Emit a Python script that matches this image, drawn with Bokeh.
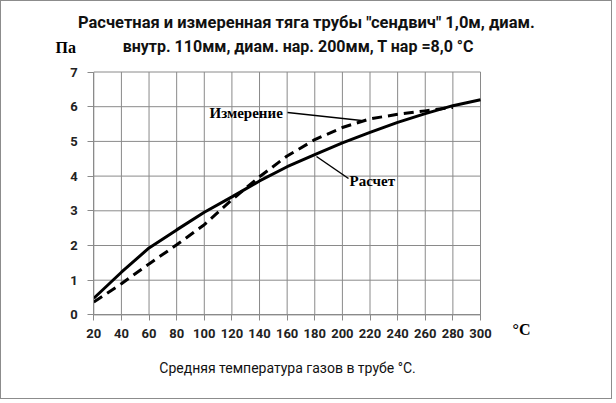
from bokeh.plotting import figure
from bokeh.models import Range1d, FixedTicker, Label, LinearAxis
from bokeh.embed import file_html
from bokeh.resources import INLINE

# ---- data ----
temp_calc = [20, 40, 60, 80, 100, 120, 140, 160, 180, 200, 220, 240, 260, 280, 300]
draft_calc = [0.48, 1.23, 1.93, 2.45, 2.96, 3.40, 3.86, 4.27, 4.62, 4.96, 5.26, 5.55, 5.80, 6.03, 6.20]
temp_meas = [20, 40, 60, 80, 100, 120, 140, 160, 180, 200, 220, 240, 260, 280]
draft_meas = [0.37, 0.90, 1.47, 2.02, 2.60, 3.32, 3.98, 4.58, 5.05, 5.40, 5.65, 5.78, 5.88, 5.98]
x_ticks = list(range(20, 301, 20))
y_ticks = list(range(0, 8))

title_1 = 'Расчетная  и измеренная тяга трубы "сендвич" 1,0м,  диам.'
title_2 = 'внутр.  110мм,  диам. нар. 200мм, Т нар =8,0 °C'
x_title = 'Средняя температура газов в трубе °C.'
y_unit = 'Па'
x_unit = '°C'
lbl_meas = 'Измерение'
lbl_calc = 'Расчет'

W, H = 612, 399
# plot-area placement on the canvas (pixels)
PX0, PX1 = 92.3, 479.0     # x = 20 .. 300
PY0, PY1 = 313.4, 70.5     # y = 0 .. 7
sx = (PX1 - PX0) / (x_ticks[-1] - x_ticks[0])
sy = (PY0 - PY1) / (y_ticks[-1] - y_ticks[0])

def dx(px):
    return x_ticks[0] + (px - PX0) / sx
def dy(py):
    return y_ticks[0] + (PY0 - py) / sy

p = figure(width=W, height=H, output_backend="svg", toolbar_location=None,
           x_axis_type=None, y_axis_type=None,
           x_range=Range1d(dx(0), dx(W)), y_range=Range1d(dy(H), dy(0)),
           min_border=0)
p.title.visible = False
p.styles = {"border": "1px solid #8c8c8c", "box-sizing": "border-box"}
p.outline_line_color = None
p.background_fill_color = "white"
p.border_fill_color = "white"

grid_col = "#8a8a8a"
nx, ny = len(x_ticks), len(y_ticks)
# gridlines
p.segment(x0=x_ticks, y0=[y_ticks[0]] * nx, x1=x_ticks, y1=[y_ticks[-1]] * nx,
          line_color=grid_col, line_width=1)
p.segment(x0=[x_ticks[0]] * ny, y0=y_ticks, x1=[x_ticks[-1]] * ny, y1=y_ticks,
          line_color=grid_col, line_width=1)

xax = LinearAxis(fixed_location=y_ticks[0], ticker=FixedTicker(ticks=x_ticks),
                 bounds=(x_ticks[0], x_ticks[-1]))
yax = LinearAxis(fixed_location=x_ticks[0], ticker=FixedTicker(ticks=y_ticks),
                 bounds=(y_ticks[0], y_ticks[-1]))
p.add_layout(xax, "below")
p.add_layout(yax, "left")
for ax in (xax, yax):
    ax.axis_line_color = grid_col
    ax.major_tick_line_color = grid_col
    ax.major_tick_out = 6
    ax.major_tick_in = 0
    ax.minor_tick_line_color = None
    ax.major_label_text_font = "Roboto"
    ax.major_label_text_font_style = "bold"
    ax.major_label_text_font_size = "13px"
    ax.major_label_text_color = "#222222"
xax.major_label_standoff = 8
yax.major_label_standoff = 10

p.line(temp_calc, draft_calc, line_color="black", line_width=3)
p.line(temp_meas, draft_meas, line_color="black", line_width=3, line_dash="10 6")

# leader lines of the callouts
p.line([dx(286), dx(360)], [dy(111), dy(119)], line_color="black", line_width=1.5)
p.line([dx(315), dx(347)], [dy(155), dy(177)], line_color="black", line_width=1.5)

def lab(px, py, text, font, size, style="bold", align="left", color="black"):
    p.add_layout(Label(x=dx(px), y=dy(py), text=text, text_font=font, text_font_size=size,
                       text_font_style=style, text_align=align, text_baseline="middle",
                       text_color=color))

lab(208, 111, lbl_meas, "Liberation Serif", "15px")
lab(348, 179, lbl_calc, "Liberation Serif", "15px")
lab(309, 21, title_1, "Roboto", "16.5px", align="center", color="#111111")
lab(301, 45, title_2, "Roboto", "16px", align="center", color="#111111")
lab(54, 46, y_unit, "Liberation Serif", "16px")
lab(511, 328, x_unit, "Liberation Serif", "16px")
lab(286, 366, x_title, "Roboto", "14px", style="normal", align="center", color="#111111")

open("out.html", "w").write(file_html(p, INLINE))
